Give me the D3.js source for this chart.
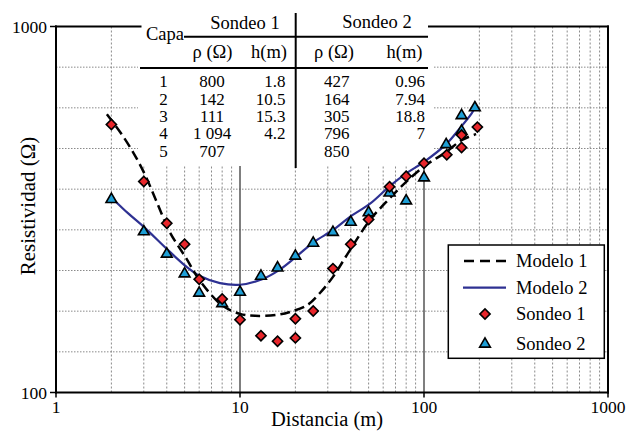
<!DOCTYPE html>
<html>
<head>
<meta charset="utf-8">
<script src="https://cdn.jsdelivr.net/npm/d3@7"></script>
<style>
  html, body { margin: 0; padding: 0; background: #fff; }
  svg text { font-family: "Liberation Serif", "DejaVu Serif", serif; }
</style>
</head>
<body>
<svg id="chart" width="627" height="432"></svg>
<script>
// ---------- DATA ----------
const xTickLabels = ["1", "10", "100", "1000"];
const yTickLabels = ["100", "1000"];

// Modelo 1 (dashed black curve)
const model1X = [1.89, 2.23, 2.62, 3.05, 3.54, 4.16, 5.09, 6.06, 8.0, 10, 12.1, 15.9, 18.7, 23.1, 27.2, 32.0, 39.6, 50.9, 65.4, 80.8, 101, 132, 161, 192];
const model1Y = [576, 515, 454, 393, 330, 274, 233, 202, 173, 164, 162, 163, 166, 173, 187, 207, 245, 296, 340, 378, 416, 454, 490, 508];

// Modelo 2 (navy solid curve)
const model2X = [2.04, 2.46, 3.01, 4.06, 5.15, 6.06, 7.78, 10, 13.2, 16.3, 20.4, 25.3, 32.0, 39.6, 50.9, 65.4, 80.8, 101, 132, 157, 182, 192];
const model2Y = [338, 309, 283, 245, 220, 208, 199, 197, 204, 216, 236, 258, 278, 302, 328, 367, 398, 428, 477, 528, 580, 607];

// Sondeo 1 (red diamonds)
const sondeo1X = [2, 3, 4, 5, 6, 8, 10, 13, 16, 20, 20, 25, 32, 40, 50, 65, 80, 100, 133, 160, 160, 195];
const sondeo1Y = [540, 377, 290, 254, 204, 180, 158, 143, 138, 159, 141, 167, 218, 254, 297, 365, 390, 423, 446, 467, 505, 531];

// Sondeo 2 (blue triangles)
const sondeo2X = [2, 3, 4, 5, 6, 8, 10, 13, 16, 20, 25, 32, 40, 50, 65, 80, 100, 132, 160, 160, 189];
const sondeo2Y = [337, 275, 239, 211, 187, 175, 188, 208, 219, 236, 256, 274, 292, 310, 351, 334, 386, 476, 518, 571, 600];

// Table
const capas = ["1", "2", "3", "4", "5"];
const s1Rho = ["800", "142", "111", "1 094", "707"];
const s1H = ["1.8", "10.5", "15.3", "4.2", ""];
const s2Rho = ["427", "164", "305", "796", "850"];
const s2H = ["0.96", "7.94", "18.8", "7", ""];

const legendLabels = ["Modelo 1", "Modelo 2", "Sondeo 1", "Sondeo 2"];

// ---------- CHART ----------
const FONT = "'Liberation Serif', 'DejaVu Serif', serif";
const svg = d3.select("#chart").attr("font-family", FONT);
const L = 56, R = 608, T = 26.5, B = 392.5;
const x = d3.scaleLog().domain([1, 1000]).range([L, R]);
const y = d3.scaleLog().domain([100, 1000]).range([B, T]);

const gridColor = "#8a8a8a";
const g = svg.append("g");

// horizontal grid (evenly spaced in the decade, as in the original)
const hGrid = d3.range(1, 9).map(k => Math.pow(10, 2 + k / 9));
g.selectAll(".hg").data(hGrid).join("line")
  .attr("x1", L).attr("x2", R)
  .attr("y1", d => y(d)).attr("y2", d => y(d))
  .attr("stroke", gridColor).attr("stroke-width", 1).attr("stroke-dasharray", "1.5,1.5");

// vertical minor grid
const vMinor = [];
[1, 10, 100].forEach(dec => { for (let m = 2; m <= 9; m++) vMinor.push(dec * m); });
g.selectAll(".vg").data(vMinor).join("line")
  .attr("x1", d => x(d)).attr("x2", d => x(d))
  .attr("y1", T).attr("y2", B)
  .attr("stroke", gridColor).attr("stroke-width", 1).attr("stroke-dasharray", "2,2");

// vertical major grid
g.selectAll(".vmaj").data([10, 100]).join("line")
  .attr("x1", d => x(d)).attr("x2", d => x(d))
  .attr("y1", T).attr("y2", B)
  .attr("stroke", "#555").attr("stroke-width", 1.5);

// white table background
svg.append("rect").attr("x", 138).attr("y", 0).attr("width", 295).attr("height", 166).attr("fill", "#fff");

// curves
const line = d3.line().x(d => x(d[0])).y(d => y(d[1])).curve(d3.curveCatmullRom.alpha(0.5));
svg.append("path").datum(model2X.map((v, i) => [v, model2Y[i]]))
  .attr("d", line).attr("fill", "none").attr("stroke", "#2e3192").attr("stroke-width", 2.2);
svg.append("path").datum(model1X.map((v, i) => [v, model1Y[i]]))
  .attr("d", line).attr("fill", "none").attr("stroke", "#000").attr("stroke-width", 2.5)
  .attr("stroke-dasharray", "10,5");

// markers
const diamond = d3.symbol().type(d3.symbolSquare).size(52);
const triangle = d3.symbol().type(d3.symbolTriangle).size(50);
const redFill = "#e8262b", blueFill = "#1e9fd6";

svg.selectAll(".s2").data(sondeo2X.map((v, i) => [v, sondeo2Y[i]])).join("path")
  .attr("d", triangle)
  .attr("transform", d => `translate(${x(d[0])},${y(d[1])})`)
  .attr("fill", blueFill).attr("stroke", "#000").attr("stroke-width", 1.6);
svg.selectAll(".s1").data(sondeo1X.map((v, i) => [v, sondeo1Y[i]])).join("path")
  .attr("d", diamond)
  .attr("transform", d => `translate(${x(d[0])},${y(d[1])}) rotate(45)`)
  .attr("fill", redFill).attr("stroke", "#000").attr("stroke-width", 1.6);

// frame
const frame = svg.append("g").attr("stroke", "#000").attr("stroke-width", 2).attr("fill", "none");
frame.append("line").attr("x1", L).attr("x2", L).attr("y1", T - 1).attr("y2", B + 1);
frame.append("line").attr("x1", R).attr("x2", R).attr("y1", T - 1).attr("y2", B + 1);
frame.append("line").attr("x1", L - 1).attr("x2", R + 1).attr("y1", B).attr("y2", B);
frame.append("line").attr("x1", L - 1).attr("x2", 141.5).attr("y1", T).attr("y2", T);
frame.append("line").attr("x1", 428).attr("x2", R + 1).attr("y1", T).attr("y2", T);

// ticks
const xTickVals = xTickLabels.map(Number);
svg.selectAll(".xt").data(xTickVals).join("line")
  .attr("x1", d => x(d)).attr("x2", d => x(d)).attr("y1", B).attr("y2", B + 5)
  .attr("stroke", "#000").attr("stroke-width", 1.5);
svg.selectAll(".xtl").data(xTickLabels).join("text")
  .attr("x", d => x(+d)).attr("y", 413).attr("text-anchor", "middle")
  .attr("font-size", 17.5).text(d => d);
const yTickVals = yTickLabels.map(Number);
svg.selectAll(".yt").data(yTickVals).join("line")
  .attr("x1", L - 6).attr("x2", L).attr("y1", d => y(d)).attr("y2", d => y(d))
  .attr("stroke", "#000").attr("stroke-width", 1.5);
svg.selectAll(".ytl").data(yTickLabels).join("text")
  .attr("x", 47).attr("y", d => y(+d) + 6).attr("text-anchor", "end")
  .attr("font-size", 17.5).text(d => d);

// axis titles
svg.append("text").attr("x", 327).attr("y", 426).attr("text-anchor", "middle")
  .attr("font-size", 20.5).text("Distancia (m)");
svg.append("text").attr("transform", "translate(35,206) rotate(-90)").attr("text-anchor", "middle")
  .attr("font-size", 21).text("Resistividad (Ω)");

// table
const tb = svg.append("g").attr("font-size", 18.5);
tb.append("text").attr("x", 165).attr("y", 39.5).attr("text-anchor", "middle").text("Capa");
tb.append("text").attr("x", 245).attr("y", 29).attr("text-anchor", "middle").text("Sondeo 1");
tb.append("text").attr("x", 377).attr("y", 28).attr("text-anchor", "middle").text("Sondeo 2");
tb.append("text").attr("x", 212.5).attr("y", 57.5).attr("text-anchor", "middle").text("ρ (Ω)");
tb.append("text").attr("x", 287).attr("y", 57.5).attr("text-anchor", "end").text("h(m)");
tb.append("text").attr("x", 334).attr("y", 57.5).attr("text-anchor", "middle").text("ρ (Ω)");
tb.append("text").attr("x", 422.5).attr("y", 57.5).attr("text-anchor", "end").text("h(m)");
const tl = svg.append("g").attr("stroke", "#000").attr("stroke-width", 2);
tl.append("line").attr("x1", 184).attr("x2", 428).attr("y1", 36.7).attr("y2", 36.7);
tl.append("line").attr("x1", 140).attr("x2", 428).attr("y1", 68).attr("y2", 68);
tl.append("line").attr("x1", 295.7).attr("x2", 295.7).attr("y1", 13).attr("y2", 168);

const rowY = i => 87.3 + i * 17.35;
const rows = svg.append("g").attr("font-size", 17);
rows.selectAll(".c0").data(capas).join("text").attr("x", 163.5).attr("y", (d, i) => rowY(i)).attr("text-anchor", "middle").text(d => d);
rows.selectAll(".c1").data(s1Rho).join("text").attr("x", 212).attr("y", (d, i) => rowY(i)).attr("text-anchor", "middle").text(d => d);
rows.selectAll(".c2").data(s1H).join("text").attr("x", 285.5).attr("y", (d, i) => rowY(i)).attr("text-anchor", "end").text(d => d);
rows.selectAll(".c3").data(s2Rho).join("text").attr("x", 336.7).attr("y", (d, i) => rowY(i)).attr("text-anchor", "middle").text(d => d);
rows.selectAll(".c4").data(s2H).join("text").attr("x", 425).attr("y", (d, i) => rowY(i)).attr("text-anchor", "end").text(d => d);

// legend
const lg = svg.append("g");
lg.append("rect").attr("x", 448.3).attr("y", 245).attr("width", 156).attr("height", 113.3)
  .attr("fill", "#fff").attr("stroke", "#000").attr("stroke-width", 1.5);
const legY = [261, 287.7, 314, 344];
lg.append("line").attr("x1", 464).attr("x2", 507).attr("y1", legY[0]).attr("y2", legY[0])
  .attr("stroke", "#000").attr("stroke-width", 2.5).attr("stroke-dasharray", "10,6");
lg.append("line").attr("x1", 463).attr("x2", 506).attr("y1", legY[1]).attr("y2", legY[1])
  .attr("stroke", "#2e3192").attr("stroke-width", 2.2);
lg.append("path").attr("d", diamond).attr("transform", `translate(485,${legY[2]}) rotate(45)`)
  .attr("fill", redFill).attr("stroke", "#000").attr("stroke-width", 1.6);
lg.append("path").attr("d", triangle).attr("transform", `translate(485,${legY[3]})`)
  .attr("fill", blueFill).attr("stroke", "#000").attr("stroke-width", 1.6);
lg.selectAll(".lt").data(legendLabels).join("text")
  .attr("x", 516).attr("y", (d, i) => legY[i] + 6).attr("font-size", 18.5).text(d => d);
</script>
</body>
</html>
